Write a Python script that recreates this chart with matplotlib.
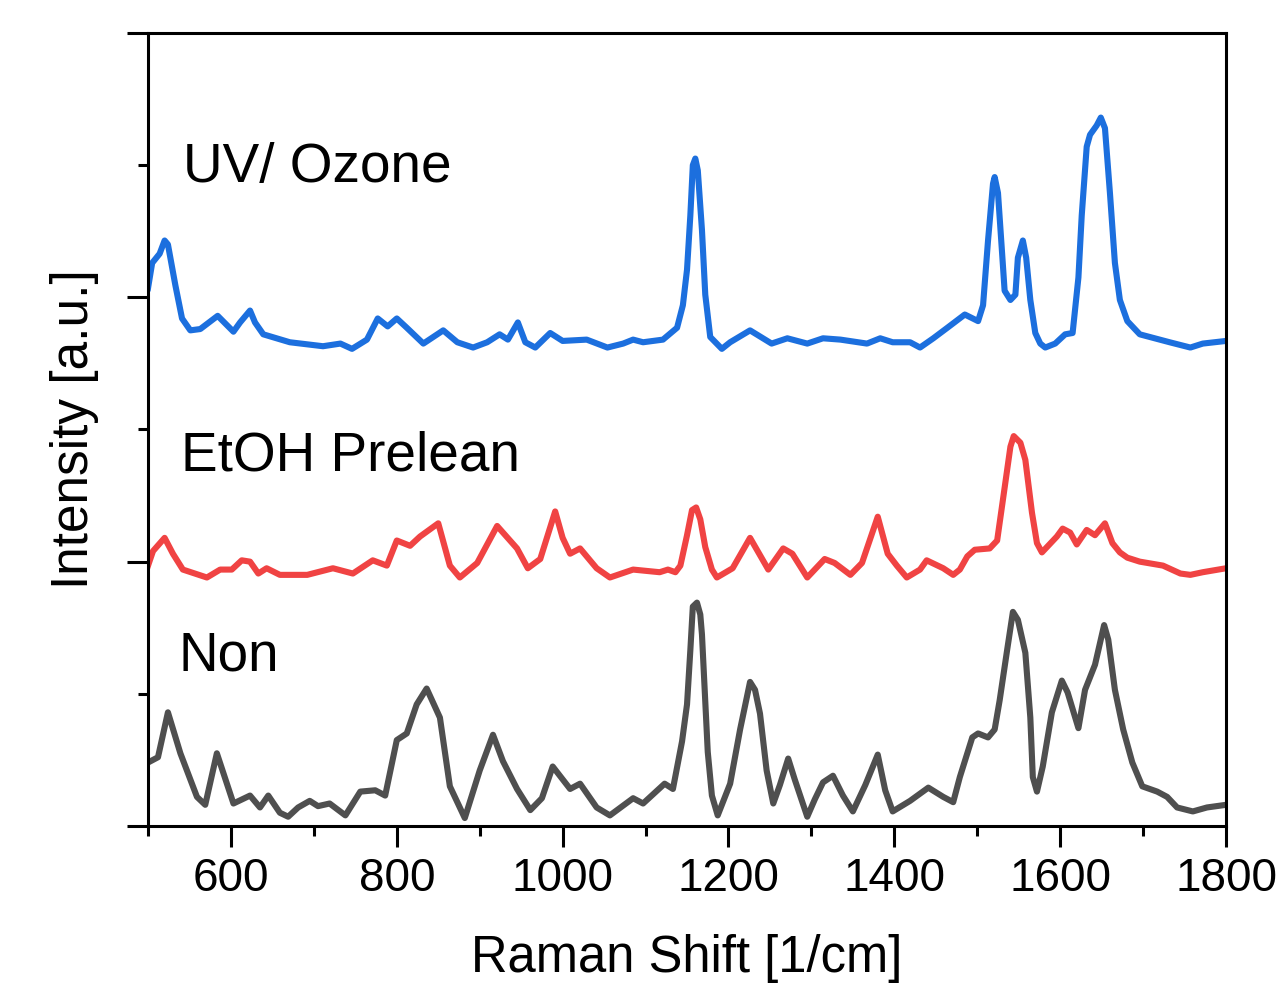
import matplotlib
matplotlib.use('Agg')
import matplotlib.pyplot as plt
from matplotlib.ticker import MultipleLocator, NullFormatter

plt.rcParams['font.family'] = ['Liberation Sans', 'DejaVu Sans']

# UV/Ozone treated sample (offset trace, top)
uv_shift = [500, 505, 514, 520, 524, 533, 541, 551, 563, 584, 603, 611, 623, 629, 639,
            671, 711, 732, 746, 764, 777, 789, 800, 812, 832, 856, 873, 892, 909, 924,
            934, 946, 955, 967, 985, 1000, 1029, 1054, 1073, 1085, 1097, 1121, 1138,
            1145, 1150, 1154, 1157, 1160, 1163, 1168, 1172, 1178, 1192, 1202, 1226,
            1252, 1271, 1295, 1314, 1335, 1367, 1383, 1398, 1419, 1431, 1447, 1464,
            1485, 1501, 1507, 1513, 1519, 1521, 1525, 1530, 1533, 1540, 1546, 1549,
            1555, 1559, 1564, 1570, 1576, 1582, 1594, 1606, 1615, 1622, 1626, 1632,
            1636, 1644, 1649, 1654, 1660, 1666, 1672, 1681, 1696, 1708, 1732, 1757,
            1772, 1800]
uv_int = [4.07, 4.26, 4.33, 4.43, 4.40, 4.09, 3.84, 3.75, 3.76, 3.86, 3.74, 3.81, 3.90,
          3.81, 3.72, 3.66, 3.63, 3.65, 3.61, 3.68, 3.84, 3.78, 3.84, 3.77, 3.65, 3.75,
          3.66, 3.62, 3.66, 3.72, 3.68, 3.81, 3.66, 3.62, 3.73, 3.67, 3.68, 3.62, 3.65,
          3.68, 3.66, 3.68, 3.77, 3.94, 4.21, 4.62, 5.00, 5.05, 4.96, 4.51, 4.02, 3.70,
          3.61, 3.66, 3.75, 3.65, 3.69, 3.65, 3.69, 3.68, 3.65, 3.69, 3.66, 3.66, 3.62,
          3.69, 3.77, 3.87, 3.82, 3.94, 4.43, 4.86, 4.91, 4.79, 4.33, 4.05, 3.98, 4.02,
          4.30, 4.43, 4.30, 3.98, 3.73, 3.65, 3.62, 3.65, 3.72, 3.73, 4.15, 4.62, 5.14,
          5.23, 5.30, 5.36, 5.28, 4.79, 4.26, 3.98, 3.82, 3.72, 3.70, 3.66, 3.62, 3.65,
          3.67]

# EtOH preclean sample (middle)
etoh_shift = [500, 506, 520, 530, 542, 571, 587, 601, 613, 623, 633, 643, 659, 692, 723,
              747, 771, 788, 800, 816, 828, 850, 864, 876, 897, 921, 945, 958, 973, 991,
              1000, 1009, 1021, 1041, 1057, 1085, 1117, 1127, 1136, 1142, 1150, 1156,
              1161, 1166, 1172, 1180, 1186, 1205, 1226, 1248, 1266, 1277, 1295, 1316,
              1328, 1347, 1361, 1380, 1392, 1403, 1415, 1431, 1439, 1459, 1471, 1479,
              1488, 1497, 1515, 1524, 1531, 1540, 1544, 1552, 1558, 1566, 1572, 1578,
              1596, 1603, 1612, 1620, 1632, 1642, 1654, 1663, 1672, 1681, 1696, 1724,
              1745, 1757, 1772, 1800]
etoh_int = [1.97, 2.08, 2.18, 2.06, 1.94, 1.88, 1.94, 1.94, 2.01, 2.00, 1.91, 1.95, 1.90,
            1.90, 1.95, 1.91, 2.01, 1.97, 2.16, 2.12, 2.19, 2.29, 1.97, 1.88, 1.99, 2.27,
            2.10, 1.95, 2.02, 2.38, 2.18, 2.06, 2.10, 1.95, 1.88, 1.94, 1.92, 1.94, 1.92,
            1.97, 2.20, 2.39, 2.41, 2.32, 2.11, 1.94, 1.88, 1.95, 2.18, 1.94, 2.10, 2.06,
            1.88, 2.02, 1.99, 1.90, 1.99, 2.34, 2.06, 1.97, 1.88, 1.94, 2.01, 1.95, 1.90,
            1.94, 2.04, 2.09, 2.10, 2.16, 2.47, 2.87, 2.95, 2.90, 2.77, 2.37, 2.14, 2.07,
            2.19, 2.25, 2.22, 2.13, 2.24, 2.20, 2.29, 2.14, 2.07, 2.03, 2.00, 1.97, 1.91,
            1.90, 1.92, 1.95]

# untreated sample (bottom)
non_shift = [500, 512, 524, 539, 559, 569, 583, 603, 623, 635, 645, 659, 669, 681, 695,
             705, 719, 738, 756, 774, 786, 800, 812, 824, 836, 852, 864, 882, 900, 916,
             928, 945, 961, 975, 988, 1009, 1021, 1041, 1057, 1085, 1097, 1123, 1133,
             1144, 1150, 1154, 1157, 1162, 1166, 1168, 1175, 1180, 1187, 1202, 1214,
             1226, 1232, 1238, 1246, 1254, 1262, 1272, 1280, 1295, 1304, 1314, 1326,
             1338, 1350, 1365, 1380, 1389, 1398, 1419, 1441, 1459, 1471, 1479, 1488,
             1494, 1501, 1513, 1521, 1527, 1536, 1543, 1549, 1558, 1564, 1567, 1572,
             1579, 1590, 1602, 1609, 1622, 1630, 1642, 1653, 1658, 1666, 1676, 1687,
             1699, 1717, 1729, 1741, 1760, 1777, 1800]
non_int = [0.48, 0.52, 0.86, 0.55, 0.22, 0.16, 0.55, 0.17, 0.23, 0.14, 0.23, 0.10, 0.07,
           0.14, 0.19, 0.15, 0.17, 0.08, 0.26, 0.27, 0.23, 0.65, 0.70, 0.92, 1.04, 0.82,
           0.30, 0.06, 0.42, 0.69, 0.49, 0.28, 0.12, 0.21, 0.45, 0.28, 0.32, 0.14, 0.08,
           0.21, 0.17, 0.32, 0.28, 0.64, 0.92, 1.33, 1.66, 1.69, 1.60, 1.45, 0.56, 0.23,
           0.08, 0.32, 0.73, 1.09, 1.03, 0.85, 0.42, 0.17, 0.31, 0.51, 0.35, 0.07, 0.20,
           0.33, 0.38, 0.23, 0.11, 0.31, 0.54, 0.27, 0.11, 0.19, 0.29, 0.22, 0.18, 0.37,
           0.55, 0.67, 0.70, 0.67, 0.73, 0.95, 1.33, 1.62, 1.56, 1.31, 0.82, 0.37, 0.26,
           0.45, 0.86, 1.10, 1.01, 0.74, 1.03, 1.22, 1.52, 1.41, 1.03, 0.73, 0.48, 0.30,
           0.26, 0.22, 0.14, 0.11, 0.14, 0.16]

labels = ['UV/ Ozone', 'EtOH Prelean', 'Non']
label_pos = [(542, 4.87), (540, 2.69), (537, 1.18)]
colors = ['#1c6fde', '#f04343', '#4f4f4f']

fig = plt.figure(figsize=(12.85, 9.88), dpi=100)
ax = fig.add_axes([0.1152, 0.1640, 0.8389, 0.8026])

ax.plot(non_shift, non_int, color=colors[2], lw=4.4, solid_joinstyle='round')
ax.plot(etoh_shift, etoh_int, color=colors[1], lw=4.4, solid_joinstyle='round')
ax.plot(uv_shift, uv_int, color=colors[0], lw=4.4, solid_joinstyle='round')

for txt, (x, y) in zip(labels, label_pos):
    ax.text(x, y, txt, fontsize=39.5, ha='left', va='baseline')

ax.set_xlim(500, 1800)
ax.set_ylim(0, 6)
ax.xaxis.set_major_locator(MultipleLocator(200))
ax.xaxis.set_minor_locator(MultipleLocator(100))
ax.yaxis.set_major_locator(MultipleLocator(2))
ax.yaxis.set_minor_locator(MultipleLocator(1))
ax.yaxis.set_major_formatter(NullFormatter())

ax.tick_params(which='major', direction='out', length=15, width=2.2, labelsize=33, pad=7)
ax.tick_params(which='minor', direction='out', length=7, width=2.2)
for sp in ax.spines.values():
    sp.set_linewidth(2.2)

ax.set_xlabel('Raman Shift [1/cm]', fontsize=36.5, labelpad=24)
ax.set_ylabel('Intensity [a.u.]', fontsize=37, labelpad=13)

fig.savefig('out.png', dpi=100)
